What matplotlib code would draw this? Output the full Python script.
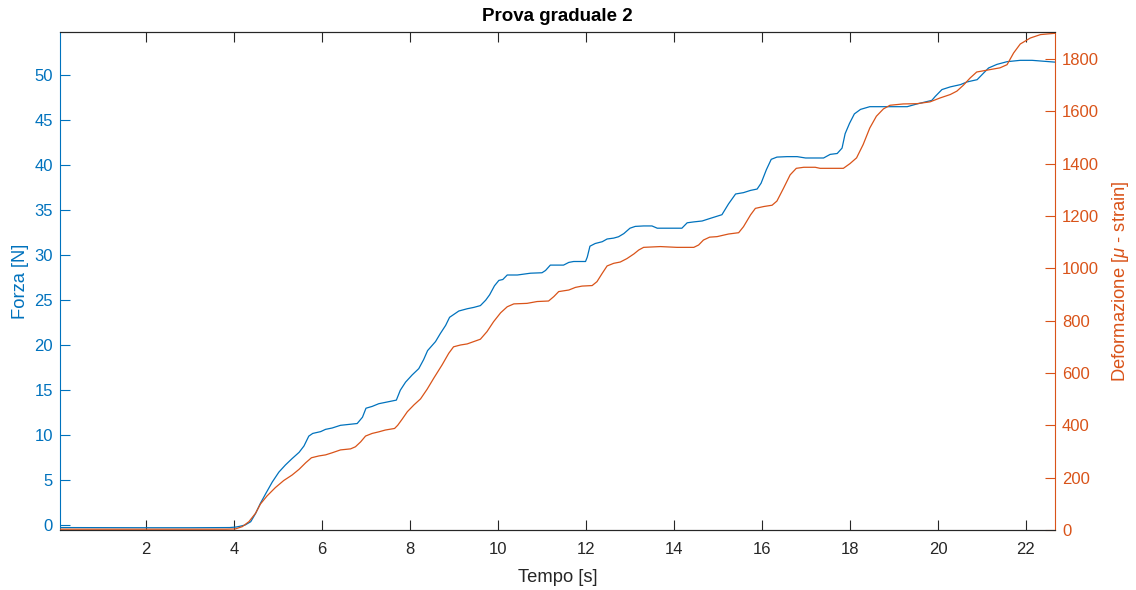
import matplotlib
matplotlib.use("Agg")
import matplotlib.pyplot as plt

# Force channel (left axis)
t_forza = [0.05, 1.0, 2.0, 3.0, 3.9, 4.05, 4.15, 4.25, 4.38, 4.49, 4.6, 4.72, 4.87, 5.02, 5.17,
           5.32, 5.48, 5.59, 5.7, 5.79, 5.97, 6.08, 6.23, 6.42, 6.61, 6.8, 6.92, 7.0, 7.14, 7.29,
           7.44, 7.69, 7.78, 7.9, 8.05, 8.2, 8.31, 8.4, 8.58, 8.69, 8.81, 8.9, 8.99, 9.11, 9.3,
           9.45, 9.6, 9.72, 9.81, 9.92, 10.02, 10.11, 10.21, 10.44, 10.74, 11.0, 11.08, 11.19,
           11.49, 11.61, 11.72, 11.99, 12.03, 12.09, 12.21, 12.37, 12.48, 12.63, 12.74, 12.86,
           13.0, 13.12, 13.31, 13.5, 13.62, 13.84, 14.18, 14.3, 14.45, 14.64, 14.83, 15.09, 15.24,
           15.4, 15.58, 15.74, 15.89, 15.98, 16.1, 16.21, 16.34, 16.57, 16.8, 16.99, 17.4, 17.55,
           17.71, 17.82, 17.89, 17.99, 18.1, 18.24, 18.45, 18.9, 19.3, 19.52, 19.86, 19.94, 20.09,
           20.28, 20.51, 20.66, 20.89, 21.0, 21.15, 21.34, 21.57, 21.87, 22.14, 22.4, 22.66]
forza = [-0.26, -0.27, -0.28, -0.28, -0.26, -0.2, -0.1, 0.02, 0.39, 1.3, 2.43, 3.5, 4.8, 5.9, 6.7,
         7.4, 8.1, 8.8, 9.9, 10.2, 10.4, 10.65, 10.8, 11.1, 11.2, 11.3, 12.0, 13.0, 13.2, 13.5,
         13.65, 13.9, 15.0, 15.9, 16.7, 17.4, 18.4, 19.4, 20.4, 21.3, 22.2, 23.1, 23.4, 23.8, 24.05,
         24.2, 24.4, 25.0, 25.6, 26.6, 27.2, 27.3, 27.8, 27.8, 28.0, 28.05, 28.3, 28.9,
         28.9, 29.2, 29.3, 29.3, 29.8, 31.0, 31.3, 31.5, 31.8, 31.9, 32.05, 32.4,
         33.0, 33.2, 33.25, 33.25, 33.0, 33.0, 33.0, 33.6, 33.7, 33.8, 34.1, 34.5, 35.7,
         36.8, 36.95, 37.2, 37.35, 38.0, 39.5, 40.65, 40.9, 40.95, 40.95, 40.8, 40.8, 41.2,
         41.3, 41.9, 43.5, 44.65, 45.7, 46.2, 46.5, 46.5, 46.5, 46.8, 47.2, 47.65, 48.4,
         48.7, 48.95, 49.25, 49.5, 50.05, 50.8, 51.2, 51.5, 51.65, 51.65, 51.55, 51.45]

# Strain channel (right axis)
t_def = [0.05, 2.0, 3.81, 4.03, 4.19, 4.34, 4.49, 4.6, 4.75, 4.94, 5.13, 5.32, 5.48, 5.63, 5.76,
         5.93, 6.08, 6.23, 6.42, 6.65, 6.76, 6.88, 6.99, 7.14, 7.29, 7.44, 7.65, 7.72, 7.82, 7.94,
         8.09, 8.24, 8.39, 8.54, 8.73, 8.88, 8.99, 9.15, 9.3, 9.45, 9.6, 9.75, 9.9, 10.06, 10.21,
         10.36, 10.66, 10.89, 11.15, 11.27, 11.38, 11.61, 11.76, 11.91, 12.14, 12.25, 12.37, 12.48,
         12.63, 12.78, 12.93, 13.09, 13.2, 13.31, 13.69, 14.07, 14.45, 14.56, 14.67, 14.81, 14.98,
         15.24, 15.47, 15.58, 15.74, 15.85, 16.04, 16.23, 16.34, 16.49, 16.64, 16.78, 16.95, 17.21,
         17.32, 17.85, 18.0, 18.15, 18.3, 18.45, 18.6, 18.76, 18.91, 19.21, 19.52, 19.82, 20.05,
         20.28, 20.43, 20.58, 20.73, 20.88, 21.11, 21.41, 21.57, 21.72, 21.87, 22.1, 22.33, 22.66]
deform = [3, 3, 3, 4, 13, 32, 64, 99, 130, 162, 189, 210, 232, 257, 276,
          283, 287, 295, 306, 310, 318, 337, 359, 369, 375, 382, 388, 400, 423, 452,
          478, 501, 538, 580, 631, 675, 700, 707, 711, 720, 729, 758, 796, 830, 853,
          864, 866, 873, 875, 892, 911, 917, 927, 932, 934, 949, 981, 1009,
          1019, 1024, 1037, 1055, 1070, 1080, 1083, 1080, 1080, 1089, 1108, 1119, 1121,
          1131, 1136, 1159, 1204, 1229, 1236, 1241, 1257, 1306, 1357, 1382, 1386, 1386,
          1382, 1382, 1400, 1422, 1473, 1536, 1581, 1609, 1623, 1628, 1629, 1636, 1651,
          1664, 1677, 1700, 1727, 1750, 1757, 1766, 1778, 1823, 1857, 1880, 1893, 1898]

x_ticks = [2, 4, 6, 8, 10, 12, 14, 16, 18, 20, 22]
left_ticks = [0, 5, 10, 15, 20, 25, 30, 35, 40, 45, 50]
right_ticks = [0, 200, 400, 600, 800, 1000, 1200, 1400, 1600, 1800]

BLUE = "#0072BD"
ORANGE = "#D95319"
DARK = "#262626"

plt.rcParams["font.family"] = ["Liberation Sans", "DejaVu Sans"]
plt.rcParams["mathtext.fontset"] = "custom"
plt.rcParams["mathtext.it"] = "Liberation Sans:italic"

fig = plt.figure(figsize=(11.36, 5.9), dpi=100)
ax1 = fig.add_axes([0.0528, 0.1017, 0.8759, 0.8441])
ax2 = ax1.twinx()

ax1.plot(t_forza, forza, color=BLUE, lw=0.9)
ax2.plot(t_def, deform, color=ORANGE, lw=0.9)

ax1.set_xlim(0.045, 22.66)
ax1.set_ylim(-0.53, 54.8)
ax2.set_ylim(0, 1903)

ax1.set_xticks(x_ticks)
ax1.set_yticks(left_ticks)
ax2.set_yticks(right_ticks)

ax1.tick_params(axis="x", direction="in", length=7.5, width=0.8, top=True, bottom=True,
                colors=DARK, labelsize=12, pad=9)
ax1.tick_params(axis="y", direction="in", length=7.5, width=0.8, left=True, right=False,
                colors=BLUE, labelsize=12, pad=5)
ax2.tick_params(axis="y", direction="in", length=7.5, width=0.8, right=True, left=False,
                colors=ORANGE, labelsize=12, pad=5)

for ax in (ax1, ax2):
    ax.spines["top"].set_color(DARK)
    ax.spines["bottom"].set_color(DARK)
    ax.spines["top"].set_linewidth(0.8)
    ax.spines["bottom"].set_linewidth(0.8)
ax1.spines["left"].set_color(BLUE)
ax1.spines["right"].set_visible(False)
ax2.spines["right"].set_color(ORANGE)
ax2.spines["left"].set_visible(False)
ax1.spines["left"].set_linewidth(0.8)
ax2.spines["right"].set_linewidth(0.8)

ax1.set_xlabel("Tempo [s]", fontsize=13.2, color=DARK, labelpad=8)
ax1.set_ylabel("Forza [N]", fontsize=13.2, color=BLUE, labelpad=4)
ax2.set_ylabel(r"Deformazione [$\mu$ - strain]", fontsize=13.2, color=ORANGE, labelpad=8)
ax1.set_title("Prova graduale 2", fontsize=13.5, fontweight="bold", color="black", pad=8)

fig.savefig("out.png", dpi=100)
